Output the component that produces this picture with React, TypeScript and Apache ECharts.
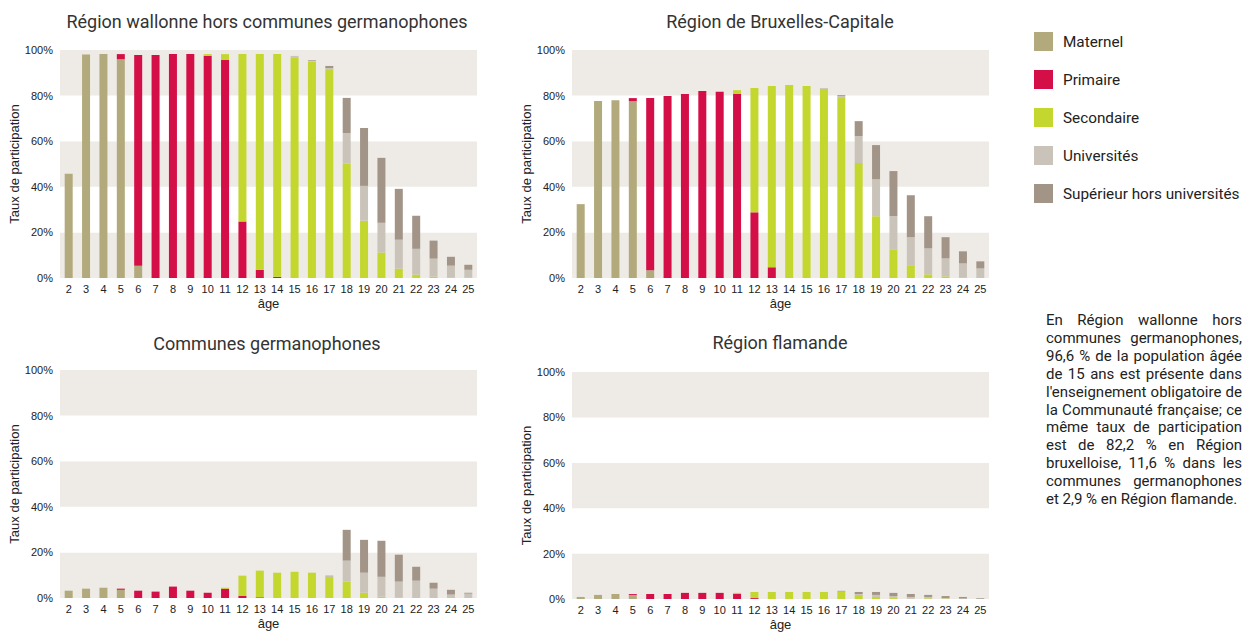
import React, { useEffect, useRef } from "react";
import * as echarts from "echarts";

const ages = ["2","3","4","5","6","7","8","9","10","11","12","13","14","15","16","17","18","19","20","21","22","23","24","25"];
const seriesNames = ["Maternel", "Primaire", "Secondaire", "Universités", "Supérieur hors universités"];
const seriesColors = ["#B2AA7C", "#D40E47", "#C3D72F", "#CAC3B9", "#A29588"];
const yTicks = [0, 20, 40, 60, 80, 100];

const panelTitles = [
  "Région wallonne hors communes germanophones",
  "Région de Bruxelles-Capitale",
  "Communes germanophones",
  "Région flamande",
];

// Région wallonne hors communes germanophones
const walMaternel = [45.7, 98, 98.2, 96, 5.4, 0, 0, 0, 0, 0, 0, 0, 0, 0, 0, 0, 0, 0, 0, 0, 0, 0, 0, 0];
const walPrimaire = [0, 0, 0, 2.2, 92.4, 97.8, 98.2, 98.2, 97.5, 95.6, 24.8, 3.6, 0.5, 0, 0, 0, 0, 0, 0, 0, 0, 0, 0, 0];
const walSecondaire = [0, 0, 0, 0, 0, 0, 0, 0, 0.7, 2.6, 73.4, 94.6, 97.7, 96.8, 94.9, 91.2, 50.2, 25.1, 11.2, 4.1, 1.5, 0.6, 0.3, 0.3];
const walUniv = [0, 0, 0, 0, 0, 0, 0, 0, 0, 0, 0, 0, 0, 0.6, 0.3, 0.9, 13.4, 15.3, 13.0, 12.7, 11.3, 7.9, 5.1, 3.3];
const walSup = [0, 0, 0, 0, 0, 0, 0, 0, 0, 0, 0, 0, 0, 0, 0.3, 0.9, 15.4, 25.4, 28.5, 22.3, 14.5, 7.9, 3.9, 2.2];

// Région de Bruxelles-Capitale
const bruMaternel = [32.4, 77.6, 78.0, 77.6, 3.4, 0, 0, 0, 0, 0, 0, 0, 0, 0, 0, 0, 0, 0, 0, 0, 0, 0, 0, 0];
const bruPrimaire = [0, 0, 0, 1.3, 75.5, 79.8, 80.7, 82.0, 81.6, 80.7, 28.8, 4.7, 0, 0, 0, 0, 0, 0, 0, 0, 0, 0, 0, 0];
const bruSecondaire = [0, 0, 0, 0, 0, 0, 0, 0, 0.4, 1.7, 54.5, 79.5, 84.6, 84.2, 82.9, 78.9, 50.4, 27.1, 12.6, 5.6, 1.6, 0.7, 0.3, 0];
const bruUniv = [0, 0, 0, 0, 0, 0, 0, 0, 0, 0, 0, 0, 0, 0, 0.4, 0.9, 11.8, 16.2, 14.5, 12.3, 11.4, 7.9, 6.1, 4.2];
const bruSup = [0, 0, 0, 0, 0, 0, 0, 0, 0, 0, 0, 0, 0, 0, 0, 0.4, 6.6, 15.0, 19.8, 18.4, 14.1, 9.3, 5.3, 3.1];

// Communes germanophones
const gerMaternel = [3.2, 4.1, 4.5, 3.6, 0, 0, 0, 0, 0, 0, 0, 0, 0, 0, 0, 0, 0, 0, 0, 0, 0, 0, 0, 0];
const gerPrimaire = [0, 0, 0, 0.5, 3.2, 2.8, 5.0, 3.2, 2.3, 4.1, 1.0, 0.3, 0, 0, 0, 0, 0, 0, 0, 0, 0, 0, 0, 0];
const gerSecondaire = [0, 0, 0, 0, 0, 0, 0, 0, 0, 0.4, 8.8, 11.7, 11.1, 11.5, 11.1, 9.3, 7.2, 2.3, 0.6, 0.3, 0, 0, 0, 0];
const gerUniv = [0, 0, 0, 0, 0, 0, 0, 0, 0, 0, 0, 0, 0, 0, 0, 0.2, 9.2, 8.8, 8.7, 6.9, 7.6, 4.1, 1.5, 1.9];
const gerSup = [0, 0, 0, 0, 0, 0, 0, 0, 0, 0, 0, 0, 0, 0, 0, 0.3, 13.5, 14.4, 15.8, 11.8, 6.1, 2.6, 2.1, 0.4];

// Région flamande
const flaMaternel = [0.9, 1.8, 2.2, 1.8, 0, 0, 0, 0, 0, 0, 0, 0, 0, 0, 0, 0, 0, 0, 0, 0, 0, 0, 0, 0];
const flaPrimaire = [0, 0, 0, 0.4, 2.2, 2.2, 2.7, 2.7, 2.7, 2.2, 0.4, 0, 0, 0, 0, 0, 0, 0, 0, 0, 0, 0, 0, 0];
const flaSecondaire = [0, 0, 0, 0, 0, 0, 0, 0, 0, 0.5, 2.7, 3.1, 3.1, 3.1, 3.1, 3.1, 1.8, 0.9, 0.4, 0.1, 0.3, 0.2, 0, 0];
const flaUniv = [0, 0, 0, 0, 0, 0, 0, 0, 0, 0, 0, 0, 0, 0, 0, 0.2, 0.4, 0.9, 0.9, 0.8, 0.6, 0.2, 0.2, 0.1];
const flaSup = [0, 0, 0, 0, 0, 0, 0, 0, 0, 0, 0, 0, 0, 0, 0, 0.3, 0.9, 1.3, 1.4, 1.3, 0.9, 0.9, 0.7, 0.3];

const noteLines = [
  "En Région wallonne hors",
  "communes germanophones,",
  "96,6 % de la population âgée",
  "de 15 ans est présente dans",
  "l'enseignement obligatoire de",
  "la Communauté française; ce",
  "même taux de participation",
  "est de 82,2 % en Région",
  "bruxelloise, 11,6 % dans les",
  "communes germanophones",
  "et 2,9 % en Région flamande.",
];

const panelData = [
  [walMaternel, walPrimaire, walSecondaire, walUniv, walSup],
  [bruMaternel, bruPrimaire, bruSecondaire, bruUniv, bruSup],
  [gerMaternel, gerPrimaire, gerSecondaire, gerUniv, gerSup],
  [flaMaternel, flaPrimaire, flaSecondaire, flaUniv, flaSup],
];

const grids = [
  { left: 60, top: 50, width: 417, height: 228 },
  { left: 572, top: 50, width: 417, height: 228 },
  { left: 60, top: 370, width: 417, height: 228 },
  { left: 572, top: 372, width: 417, height: 227 },
];
const titlePos = [
  { x: 267, y: 21 },
  { x: 780, y: 21 },
  { x: 267, y: 343 },
  { x: 780, y: 342 },
];

const AXIS_FONT = "'Liberation Sans', Arial, sans-serif";
const TEXT_FONT = "Roboto, 'Noto Sans', sans-serif";

export default function App() {
  const ref = useRef<HTMLDivElement>(null);

  useEffect(() => {
    if (!ref.current) return;
    const chart = echarts.init(ref.current, null, { renderer: "svg" });

    const xAxis: any[] = [];
    const yAxis: any[] = [];
    const series: any[] = [];
    const graphic: any[] = [];

    grids.forEach((g, gi) => {
      xAxis.push({
        type: "category",
        gridIndex: gi,
        data: ages,
        name: "âge",
        nameLocation: "middle",
        nameGap: 19,
        nameTextStyle: { fontFamily: AXIS_FONT, fontSize: 13, color: "#222" },
        axisLine: { show: false },
        axisTick: { show: false },
        axisLabel: { fontFamily: AXIS_FONT, fontSize: 11, color: "#222", margin: 5, interval: 0 },
      });
      yAxis.push({
        type: "value",
        gridIndex: gi,
        min: yTicks[0],
        max: yTicks[yTicks.length - 1],
        interval: 20,
        name: "Taux de participation",
        nameLocation: "middle",
        nameGap: 38,
        nameRotate: 90,
        nameTextStyle: { fontFamily: AXIS_FONT, fontSize: 13, color: "#222" },
        axisLine: { show: false },
        axisTick: { show: false },
        splitLine: { show: false },
        splitArea: { show: true, areaStyle: { color: ["#EEEBE6", "#FFFFFF"] } },
        axisLabel: { fontFamily: AXIS_FONT, fontSize: 11, color: "#222", margin: 7, formatter: "{value}%" },
      });
      panelData[gi].forEach((vals, si) => {
        series.push({
          type: "bar",
          name: seriesNames[si],
          xAxisIndex: gi,
          yAxisIndex: gi,
          stack: "s" + gi,
          barWidth: 8,
          data: vals,
          itemStyle: { color: seriesColors[si] },
          emphasis: { disabled: true },
        });
      });
      graphic.push({
        type: "text",
        x: titlePos[gi].x,
        y: titlePos[gi].y,
        style: {
          text: panelTitles[gi],
          font: "18px " + TEXT_FONT,
          fill: "#333",
          textAlign: "center",
          textVerticalAlign: "middle",
        },
      });
    });

    // Justified note paragraph, sized to fit inside the page
    const noteX = 1046;
    const noteRight = 1242;
    const ctx = document.createElement("canvas").getContext("2d")!;
    const measureMax = (size: number) => {
      ctx.font = size + "px " + TEXT_FONT;
      const sp = ctx.measureText(" ").width;
      return Math.max(
        ...noteLines.map((l) => {
          const ws = l.split(" ");
          return ws.reduce((a, w) => a + ctx.measureText(w).width, 0) + sp * (ws.length - 1);
        })
      );
    };
    let noteSize = 16;
    const m16 = measureMax(16);
    if (m16 > noteRight - noteX) noteSize = Math.floor((16 * (noteRight - noteX) / m16) * 10) / 10;
    const noteFont = noteSize + "px " + TEXT_FONT;
    ctx.font = noteFont;
    const spaceW = ctx.measureText(" ").width;
    const blockW = noteRight - noteX;
    const noteY = 320;
    const lineH = 17.9;
    noteLines.forEach((line, li) => {
      const ws = line.split(" ");
      const widths = ws.map((w) => ctx.measureText(w).width);
      const sum = widths.reduce((a, b) => a + b, 0);
      const last = li === noteLines.length - 1;
      const gap = last || ws.length < 2 ? spaceW : (blockW - sum) / (ws.length - 1);
      let x = noteX;
      ws.forEach((w, wi) => {
        graphic.push({
          type: "text",
          x,
          y: noteY + li * lineH,
          style: { text: w, font: noteFont, fill: "#222", textVerticalAlign: "middle" },
        });
        x += widths[wi] + gap;
      });
    });

    const option: any = {
      animation: false,
      grid: grids.map((g) => ({ ...g, containLabel: false })),
      legend: {
        orient: "vertical",
        left: 1034,
        top: 32,
        itemWidth: 19,
        itemHeight: 19,
        itemGap: 19,
        icon: "rect",
        padding: 0,
        data: seriesNames,
        selectedMode: false,
        textStyle: { fontFamily: TEXT_FONT, fontSize: 15.3, color: "#222", padding: [0, 0, 0, 5] },
      },
      xAxis,
      yAxis,
      series,
      graphic,
    };
    chart.setOption(option);
    return () => chart.dispose();
  }, []);

  return (
    <div
      ref={ref}
      style={{ position: "absolute", left: 0, top: 0, width: 1244, height: 632, background: "#fff" }}
    />
  );
}
